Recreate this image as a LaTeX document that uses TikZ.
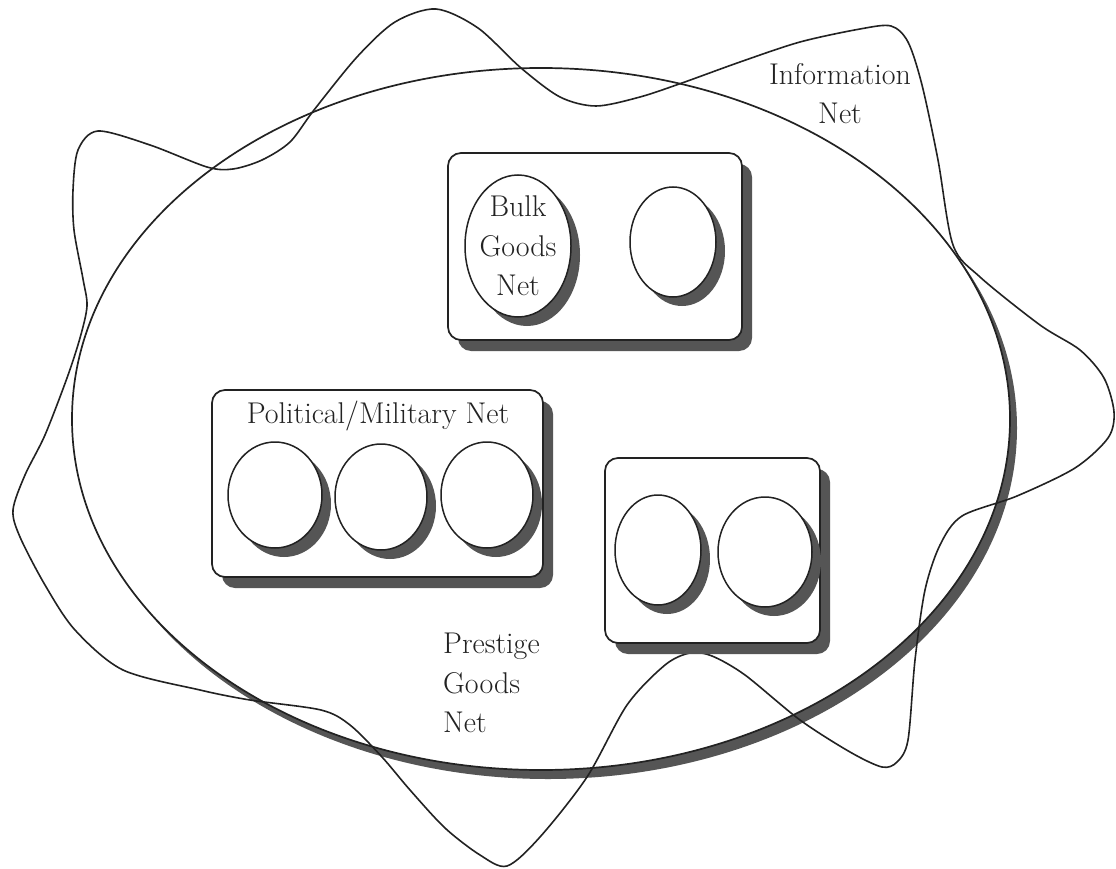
\documentclass[tikz,border=0pt]{standalone}
\usetikzlibrary{shapes.geometric,shadows}
\definecolor{ink}{HTML}{222222}
\definecolor{shade}{HTML}{555555}
\begin{document}
\begin{tikzpicture}[x=1pt,y=-1pt,
  ring/.style={ellipse, draw=ink, line width=1.7pt, fill=white, inner sep=0pt,
    general shadow={fill=shade, shadow xshift=7pt, shadow yshift=-9pt}},
  panel/.style={rectangle, rounded corners=13pt, draw=ink, line width=1.7pt, fill=white, inner sep=0pt,
    general shadow={fill=shade, shadow xshift=10pt, shadow yshift=-11pt}},
  net/.style={ellipse, draw=ink, line width=1.5pt, fill=white, inner sep=0pt,
    general shadow={fill=shade, shadow xshift=9pt, shadow yshift=-9pt}},
  lbl/.style={text=ink, font=\fontsize{30}{39.5}\selectfont, inner sep=0pt},
  wave/.style={draw=ink, line width=1.6pt}]
\useasboundingbox (0,0) rectangle (1116,869);
\fill[white] (0,0) rectangle (1116,869);

% Prestige goods net (large ellipse)
\node[ring, minimum width=938pt, minimum height=702pt] (prestige) at (541,419) {};

% Information net (wavy closed curve)
\draw[wave] plot[smooth cycle, tension=0.5] coordinates {
 (436,9) (478,28) (521,68) (560,97) (596,106) (640,97) (682,83) (740,62) (800,42) (860,29) (891,26)
 (908,42) (922,85) (938,160) (953,245) (980,277) (1040,325) (1080,350) (1104,378) (1114,412)
 (1108,438) (1075,468) (1017,496) (962,516) (940,545) (925,590) (915,660) (908,740) (897,762)
 (882,767) (850,752) (800,720) (745,675) (712,656) (690,653) (665,665) (627,705) (587,777)
 (540,837) (507,866) (480,855) (445,828) (410,790) (382,757) (350,725) (321,710) (250,700)
 (200,690) (123,670) (75,630) (45,585) (20,537) (13,510) (25,475) (45,435) (67,378) (80,338)
 (87,306) (83,279) (74,230) (73,190) (78,150) (98,131) (150,145) (207,167) (233,169) (262,160)
 (290,142) (314,110) (357,57) (395,22)};

% Boxes
\node[panel, minimum width=294pt, minimum height=187pt] (bulkbox) at (595,246.5) {};
\node[panel, minimum width=331pt, minimum height=187pt] (polbox) at (377.5,483.5) {};
\node[panel, minimum width=215pt, minimum height=185pt] (prbox) at (712.5,550.5) {};

% Circles
\node[net, inner sep=-10pt, minimum width=106pt, minimum height=142pt, text=ink, font=\fontsize{30}{39.5}\selectfont, align=center] (bulk) at (518,246) {Bulk\\Goods\\Net};
\node[net, minimum width=86pt, minimum height=110pt] (b2) at (673,242) {};
\node[net, minimum width=94pt, minimum height=106pt] (p1) at (275,495) {};
\node[net, minimum width=92pt, minimum height=106pt] (p2) at (381,497) {};
\node[net, minimum width=92pt, minimum height=106pt] (p3) at (487,495) {};
\node[net, minimum width=86pt, minimum height=110pt] (r1) at (658,550) {};
\node[net, minimum width=94pt, minimum height=110pt] (r2) at (765,552) {};

% Labels
\node[lbl, anchor=base] (poltext) at (378,423) {Political/Military Net};
\node[lbl, anchor=north, align=center] (info) at (840,63) {Information\\Net};
\node[lbl, anchor=north west, align=left] (pgn) at (443,633) {Prestige\\Goods\\Net};
\end{tikzpicture}
\end{document}
